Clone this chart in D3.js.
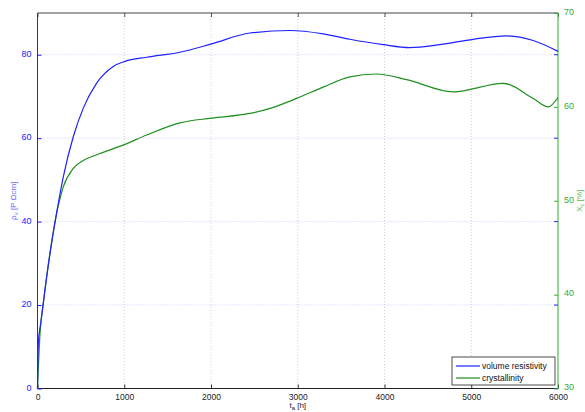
<!DOCTYPE html>
<html>
<head>
<meta charset="utf-8">
<script src="https://d3js.org/d3.v7.min.js"></script>
<style>
  body { margin:0; background:#fff; }
  text { font-family: "Liberation Sans", Arial, sans-serif; font-size:9px; }
</style>
</head>
<body>
<svg id="chart" width="585" height="412"></svg>
<script>
// volume resistivity (left axis)
var resTime = [0, 10, 40, 67, 144, 213, 298, 413, 528, 682, 873, 1008, 1258, 1641, 2007, 2448, 2909, 3293, 3600, 3984, 4292, 4638, 5022, 5407, 5714, 6000];
var resValue = [0, 11, 16, 20.5, 32.4, 41.2, 50.8, 60.4, 67.2, 73.2, 77.2, 78.4, 79.4, 80.6, 82.6, 85.2, 85.8, 85.0, 83.7, 82.4, 81.7, 82.4, 83.7, 84.5, 83.4, 80.8];
// crystallinity (right axis)
var crysTime = [0, 30, 67, 144, 213, 298, 413, 528, 682, 1008, 1258, 1641, 2007, 2448, 2700, 2986, 3293, 3600, 3908, 4254, 4792, 5369, 5714, 5888, 6000];
var crysValue = [30, 36, 39.1, 44.4, 48.3, 51.5, 53.45, 54.3, 54.9, 56.0, 57.0, 58.3, 58.8, 59.3, 59.9, 60.9, 62.1, 63.2, 63.5, 62.9, 61.6, 62.5, 60.9, 60.0, 61.0];

var xTicks = [0, 1000, 2000, 3000, 4000, 5000, 6000];
var leftTicks = [0, 20, 40, 60, 80];
var rightTicks = [30, 40, 50, 60, 70];

var blue = "#2020ff", green = "#1f8f1f", greenAxis = "#33aa33";
var svg = d3.select("#chart");
var L = 37.5, R = 558, T = 13, B = 388.5;

var x = d3.scaleLinear().domain([0, 6000]).range([L, R]);
var yL = d3.scaleLinear().domain([0, 90]).range([B, T]);
var yR = d3.scaleLinear().domain([30, 70]).range([B, T]);

// grid
svg.selectAll("line.vgrid").data(xTicks.slice(1, -1)).enter().append("line")
  .attr("x1", d => x(d)).attr("x2", d => x(d)).attr("y1", T).attr("y2", B)
  .attr("stroke", "#c4c4c4").attr("stroke-width", 0.8).attr("stroke-dasharray", "1,2");
svg.selectAll("line.hgrid").data(leftTicks.slice(1)).enter().append("line")
  .attr("x1", L).attr("x2", R).attr("y1", d => yL(d)).attr("y2", d => yL(d))
  .attr("stroke", "#b8b8ff").attr("stroke-width", 0.8).attr("stroke-dasharray", "1,2");

// frame
svg.append("line").attr("x1", L).attr("x2", R).attr("y1", T).attr("y2", T).attr("stroke", "#444");
svg.append("line").attr("x1", L).attr("x2", R).attr("y1", B).attr("y2", B).attr("stroke", "#222");

// x axis (bottom, ticks inward) + mirrored top ticks
var xAxis = svg.append("g").attr("transform", "translate(0," + B + ")")
  .call(d3.axisBottom(x).tickValues(xTicks).tickSizeInner(-4).tickSizeOuter(0).tickPadding(5).tickFormat(d3.format("d")));
xAxis.select(".domain").remove();
xAxis.selectAll("line").attr("stroke", "#333");
xAxis.selectAll("text").attr("fill", "#222").style("font-size", "8.5px");
var xTop = svg.append("g").attr("transform", "translate(0," + T + ")")
  .call(d3.axisTop(x).tickValues(xTicks).tickSizeInner(-4).tickSizeOuter(0).tickFormat(""));
xTop.select(".domain").remove();
xTop.selectAll("line").attr("stroke", "#555");

// left axis
var yAxisL = svg.append("g").attr("transform", "translate(" + L + ",0)")
  .call(d3.axisLeft(yL).tickValues(leftTicks).tickSizeInner(-4).tickSizeOuter(0).tickPadding(6));
yAxisL.select(".domain").attr("stroke", blue).attr("d", "M0," + T + "V" + B);
yAxisL.selectAll("line").attr("stroke", blue);
yAxisL.selectAll("text").attr("fill", blue).attr("dy", "0.2em").style("font-size", "9px");
// mirrored left ticks on right side
svg.selectAll("line.rt").data(leftTicks).enter().append("line")
  .attr("x1", R - 4).attr("x2", R).attr("y1", d => yL(d)).attr("y2", d => yL(d)).attr("stroke", blue);

// right axis
var yAxisR = svg.append("g").attr("transform", "translate(" + R + ",0)")
  .call(d3.axisRight(yR).tickValues(rightTicks).tickSizeInner(-4).tickSizeOuter(0).tickPadding(6));
yAxisR.select(".domain").attr("stroke", greenAxis).attr("d", "M0," + T + "V" + B);
yAxisR.selectAll("line").attr("stroke", greenAxis);
yAxisR.selectAll("text").attr("fill", greenAxis).attr("dy", "0.15em").style("font-size", "9px");

// curves
var resData = resTime.map((t, i) => [t, resValue[i]]);
var crysData = crysTime.map((t, i) => [t, crysValue[i]]);
svg.append("path").datum(crysData)
  .attr("d", d3.line().x(d => x(d[0])).y(d => yR(d[1])).curve(d3.curveMonotoneX))
  .attr("fill", "none").attr("stroke", green).attr("stroke-width", 1.2);
svg.append("path").datum(resData)
  .attr("d", d3.line().x(d => x(d[0])).y(d => yL(d[1])).curve(d3.curveMonotoneX))
  .attr("fill", "none").attr("stroke", blue).attr("stroke-width", 1.2);

// axis labels
var lt = svg.append("text").attr("transform", "translate(16," + ((T + B) / 2) + ") rotate(-90)")
  .attr("text-anchor", "middle").attr("fill", "#6a6aff").style("font-size", "8px");
lt.append("tspan").text("ρ");
lt.append("tspan").attr("dy", 2).style("font-size", "6px").text("v");
lt.append("tspan").attr("dy", -2).text(" [P Ωcm]");

var rt = svg.append("text").attr("transform", "translate(582," + ((T + B) / 2) + ") rotate(-90)")
  .attr("text-anchor", "middle").attr("fill", "#55bb55").style("font-size", "8px");
rt.append("tspan").text("X");
rt.append("tspan").attr("dy", 2).style("font-size", "6px").text("c");
rt.append("tspan").attr("dy", -2).text(" [%]");

var xt = svg.append("text").attr("x", (L + R) / 2).attr("y", 408)
  .attr("text-anchor", "middle").attr("fill", "#222").style("font-size", "8px");
xt.append("tspan").text("t");
xt.append("tspan").attr("dy", 2).style("font-size", "6px").text("a");
xt.append("tspan").attr("dy", -2).text(" [h]");

// legend
var lg = svg.append("g").attr("transform", "translate(452,357)");
lg.append("rect").attr("width", 103).attr("height", 28).attr("fill", "#fff").attr("stroke", "#222").attr("stroke-width", 0.8);
var items = [["volume resistivity", blue], ["crystallinity", green]];
items.forEach(function(it, i) {
  var yy = 9 + i * 12;
  lg.append("line").attr("x1", 4).attr("x2", 28).attr("y1", yy).attr("y2", yy).attr("stroke", it[1]).attr("stroke-width", 1.2);
  lg.append("text").attr("x", 30).attr("y", yy + 3).attr("fill", "#111").style("font-size", "8.5px").text(it[0]);
});
</script>
</body>
</html>
